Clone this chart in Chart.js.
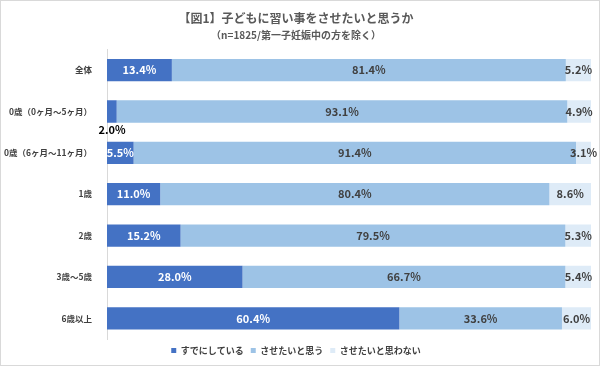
<!DOCTYPE html>
<html>
<head>
<meta charset="utf-8">
<script src="https://cdn.jsdelivr.net/npm/chart.js@4/dist/chart.umd.min.js"></script>
<style>
  html, body { margin: 0; padding: 0; background: #fff; }
  #wrap { width: 598px; height: 364px; border: 1px solid #d9d9d9; }
</style>
</head>
<body>
<div id="wrap"><canvas id="chart" width="598" height="364"></canvas></div>
<script>
const categories = ["全体", "0歳（0ヶ月～5ヶ月）", "0歳（6ヶ月～11ヶ月）", "1歳", "2歳", "3歳～5歳", "6歳以上"];
const already = [13.4, 2.0, 5.5, 11.0, 15.2, 28.0, 60.4];
const wantTo = [81.4, 93.1, 91.4, 80.4, 79.5, 66.7, 33.6];
const notWant = [5.2, 4.9, 3.1, 8.6, 5.3, 5.4, 6.0];
const seriesNames = ["すでにしている", "させたいと思う", "させたいと思わない"];

const FONT = "'Noto Sans CJK JP', 'Noto Sans', sans-serif";

// draws the percent labels on each segment
const segmentLabels = {
    id: "segmentLabels",
    afterDatasetsDraw(chart) {
        const ctx = chart.ctx;
        ctx.save();
        ctx.font = "bold 11px " + FONT;
        ctx.textAlign = "center";
        ctx.textBaseline = "middle";
        chart.data.datasets.forEach((ds, di) => {
            const meta = chart.getDatasetMeta(di);
            meta.data.forEach((bar, i) => {
                const v = ds.data[i];
                const text = v.toFixed(1) + "%";
                const x = (bar.x + bar.base) / 2;
                if (di === 0 && v < 3) {
                    ctx.fillStyle = "#000";
                    ctx.fillText(text, bar.base + 5, bar.y + 18);
                    return;
                }
                ctx.fillStyle = di === 0 ? "#ffffff" : "#404040";
                ctx.fillText(text, x, bar.y);
            });
        });
        ctx.restore();
    },
};

new Chart(document.getElementById("chart"), {
    type: "bar",
    data: {
        labels: categories,
        datasets: [
            { label: seriesNames[0], data: already, backgroundColor: "#4472c4" },
            { label: seriesNames[1], data: wantTo, backgroundColor: "#9dc3e6" },
            { label: seriesNames[2], data: notWant, backgroundColor: "#deebf7" },
        ],
    },
    options: {
        indexAxis: "y",
        responsive: false,
        animation: false,
        barPercentage: 0.54,
        categoryPercentage: 1,
        layout: { padding: { left: 0, right: 8, top: 0, bottom: 0 } },
        plugins: {
            title: {
                display: true,
                text: "【図1】子どもに習い事をさせたいと思うか",
                color: "#595959",
                font: { family: FONT, size: 12, weight: "bold" },
                padding: { top: 10, bottom: 4 },
            },
            subtitle: {
                display: true,
                text: "（n=1825/第一子妊娠中の方を除く）",
                color: "#595959",
                font: { family: FONT, size: 10, weight: "bold" },
                padding: { bottom: 8 },
            },
            legend: {
                position: "bottom",
                labels: {
                    boxWidth: 5,
                    boxHeight: 5,
                    padding: 7,
                    color: "#404040",
                    font: { family: FONT, size: 9, weight: "bold" },
                },
            },
            tooltip: { enabled: false },
        },
        scales: {
            x: {
                stacked: true,
                min: 0,
                max: 100,
                display: false,
            },
            y: {
                stacked: true,
                grid: { display: false },
                border: { display: true, color: "#d9d9d9" },
                ticks: {
                    color: "#404040",
                    padding: 7,
                    font: { family: FONT, size: 8.5, weight: "bold" },
                },
                afterFit(scale) { scale.width = 106; },
            },
        },
    },
    plugins: [segmentLabels],
});
</script>
</body>
</html>
